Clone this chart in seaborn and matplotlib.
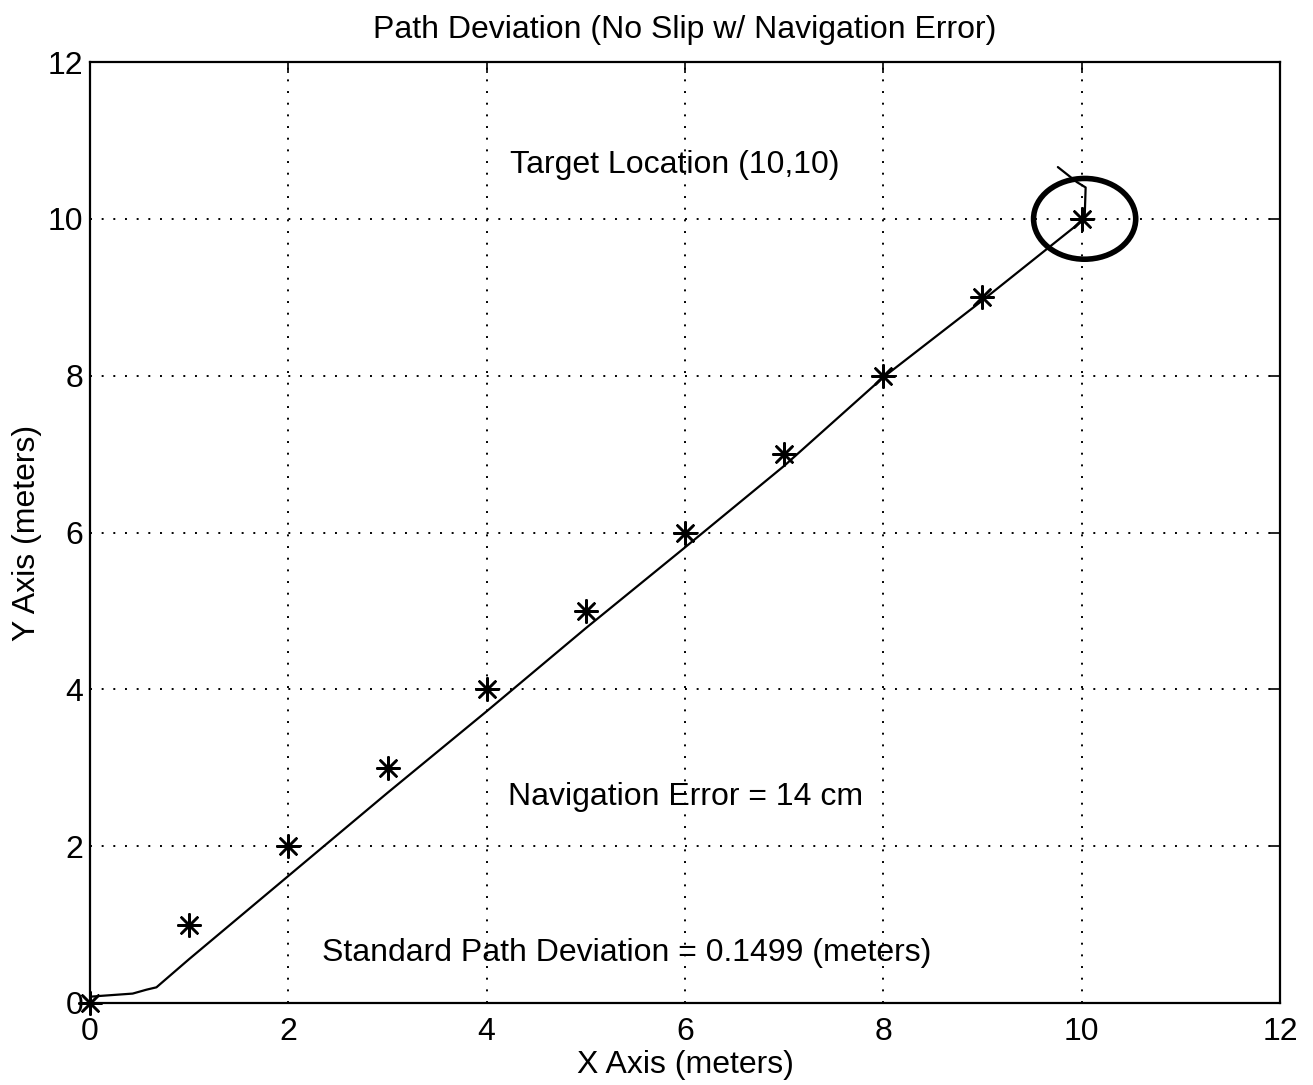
import numpy as np
import pandas as pd
import matplotlib
matplotlib.use("Agg")
import matplotlib.pyplot as plt
from matplotlib.patches import Ellipse
import seaborn as sns

# ---- data ----
path_x = [0.0, 0.10, 0.43, 0.57, 0.67, 1.00, 2.00, 3.00, 4.00, 5.00, 6.00, 7.00, 8.00, 9.00, 10.03, 10.04, 9.95, 9.76]
path_y = [0.08, 0.09, 0.12, 0.17, 0.20, 0.56, 1.62, 2.68, 3.72, 4.78, 5.81, 6.85, 7.98, 8.96, 10.00, 10.40, 10.47, 10.66]
way_x = [0, 1, 2, 3, 4, 5, 6, 7, 8, 9, 10]
way_y = [0, 1, 2, 3, 4, 5, 6, 7, 8, 9, 10]
target = (10.03, 10.0)
target_diam = (1.03, 1.03)
ticks = [0, 2, 4, 6, 8, 10, 12]
title = "Path Deviation (No Slip w/ Navigation Error)"
xlabel = "X Axis (meters)"
ylabel = "Y Axis (meters)"
annotations = [
    (4.24, 10.69, "Target Location (10,10)"),
    (4.22, 2.63, "Navigation Error = 14 cm"),
    (2.34, 0.64, "Standard Path Deviation = 0.1499 (meters)"),
]

sns.set_theme(style="white")
plt.rcParams['font.family'] = ['Liberation Sans', 'DejaVu Sans']
plt.rcParams['text.color'] = 'black'
plt.rcParams['axes.labelcolor'] = 'black'
FS = 23

fig = plt.figure(figsize=(13.13, 10.85), dpi=100)
ax = fig.add_axes([90/1313, 1 - 1003/1085, (1280-90)/1313, (1003-62)/1085])

path_df = pd.DataFrame({"x": path_x, "y": path_y})
way_df = pd.DataFrame({"x": way_x, "y": way_y})

sns.lineplot(data=path_df, x="x", y="y", sort=False, estimator=None,
             color="black", linewidth=1.6, ax=ax)
sns.scatterplot(data=way_df, x="x", y="y", marker=(8, 2, 0), s=260,
                color="black", linewidth=1.8, ax=ax, zorder=5)
for coll in ax.collections:
    coll.set_clip_on(False)

ax.add_patch(Ellipse(target, target_diam[0], target_diam[1], fill=False,
                     edgecolor="black", linewidth=4, zorder=6))

for x, y, t in annotations:
    ax.text(x, y, t, fontsize=FS, ha="left", va="center", color="black")

ax.set_xlim(0, 12)
ax.set_ylim(0, 12)
ax.set_xticks(ticks)
ax.set_yticks(ticks)
ax.tick_params(direction="in", length=8, width=1.2, top=True, right=True,
               labelsize=FS, colors="black", pad=5)
ax.tick_params(axis="x", pad=10)
ax.grid(True, linestyle=(0, (1, 5)), color="black", linewidth=1.4)
for s in ax.spines.values():
    s.set_color("black")
    s.set_linewidth(1.6)
ax.set_title(title, fontsize=FS, pad=17, color="black")
ax.set_xlabel(xlabel, fontsize=FS, labelpad=2, color="black")
ax.set_ylabel(ylabel, fontsize=FS, labelpad=4, color="black")

fig.savefig("out.png", dpi=100)
